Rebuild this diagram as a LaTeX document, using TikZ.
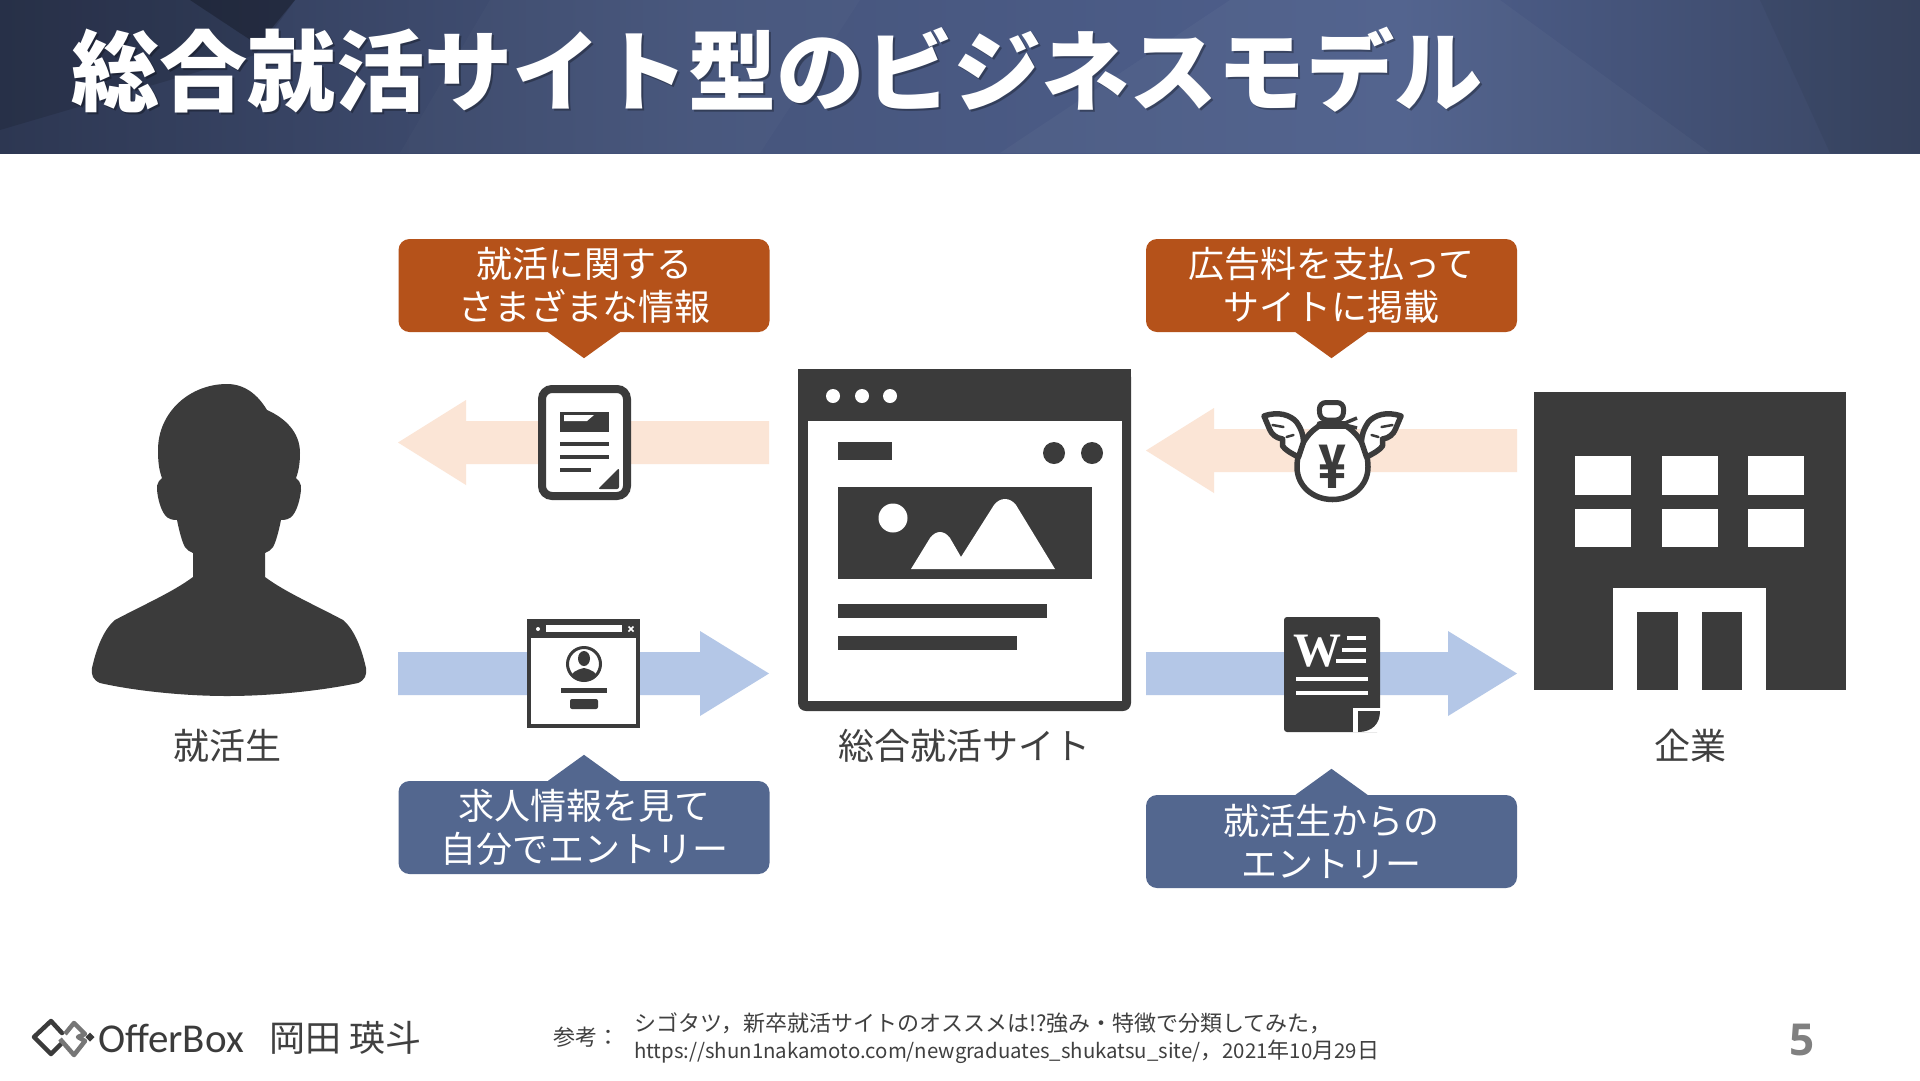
\documentclass[tikz,border=0pt]{standalone}
\usepackage{fontspec}
\setmainfont{Noto Sans CJK JP}
\newfontfamily\wfont{Liberation Serif}
\newfontfamily\logofont{Carlito}
\newfontfamily\numfont{Open Sans}
\definecolor{icon}{HTML}{3B3B3B}
\definecolor{txt}{HTML}{404040}
\definecolor{burnt}{HTML}{B5521A}
\definecolor{slate}{HTML}{53678F}
\definecolor{palered}{HTML}{FBE5D6}
\definecolor{paleblue}{HTML}{B4C7E7}
\definecolor{bandleft}{HTML}{2D3752}
\definecolor{bandmid}{HTML}{46557C}
\definecolor{bandpeak}{HTML}{4E5F8C}
\definecolor{bandright}{HTML}{394562}
\tikzset{
  callout/.style={rectangle,rounded corners=11pt,minimum width=371pt,minimum height=93pt,inner sep=0pt,text=white,align=center,font=\fontsize{36}{43}\selectfont},
  lbl/.style={text=txt,inner sep=0pt,font=\fontsize{36}{42}\selectfont},
  foot/.style={text=txt,inner sep=0pt,font=\fontsize{22}{27}\selectfont},
  icn/.style={fill=icon,draw=none},
  hole/.style={fill=white,draw=none},
  wingline/.style={draw=icon,fill=white,line width=5.5pt,line join=round,line cap=round},
}
\newcommand{\latinsize}{\fontsize{20.4}{27}\selectfont}
\newcommand{\blockright}[4][paleblue]{\fill[#1] (#2,#3-21.5) -- (#4-69,#3-21.5) -- (#4-69,#3-42.5) -- (#4,#3) -- (#4-69,#3+42.5) -- (#4-69,#3+21.5) -- (#2,#3+21.5) -- cycle;}
\newcommand{\blockleft}[4][palered]{\fill[#1] (#2,#3-21.5) -- (#4+68,#3-21.5) -- (#4+68,#3-42.5) -- (#4,#3) -- (#4+68,#3+42.5) -- (#4+68,#3+21.5) -- (#2,#3+21.5) -- cycle;}
\begin{document}
\begin{tikzpicture}[x=1pt,y=-1pt]
  \useasboundingbox (0,0) rectangle (1920,1080);
  \fill[white] (0,0) rectangle (1920,1080);
  \begin{scope}
    \clip (0,0) rectangle (1920,153);
    \shade[left color=bandleft,right color=bandmid] (0,0) rectangle (701,153);
    \shade[left color=bandmid,right color=bandpeak] (700,0) rectangle (1401,153);
    \shade[left color=bandpeak,right color=bandright] (1400,0) rectangle (1920,153);
    \fill[black,opacity=.12] (0,0) -- (295,0) -- (255,55) -- (0,130) -- cycle;
    \fill[black,opacity=.25] (190,0) -- (295,0) -- (258,45) -- cycle;
    \fill[white,opacity=.03] (1000,153) -- (1230,0) -- (1500,0) -- (1710,153) -- cycle;
    \fill[white,opacity=.02] (400,153) -- (490,0) -- (860,0) -- (760,153) -- cycle;
    \fill[black,opacity=.05] (1760,0) -- (1920,0) -- (1920,153) -- (1830,153) -- cycle;
  \end{scope}
  \node[inner sep=0pt,text=black,opacity=.3,font=\fontsize{88.2}{88}\bfseries\selectfont] (titleshadow) at (779,72) {総合就活サイト型のビジネスモデル};
  \node[inner sep=0pt,text=white,font=\fontsize{88.2}{88}\bfseries\selectfont] (title) at (777,70) {総合就活サイト型のビジネスモデル};

  \blockleft{769}{442.5}{398}
  \blockright{398}{673.5}{769}
  \blockleft{1517}{450.5}{1146}
  \blockright{1146}{673.5}{1517}

  \node[callout,fill=burnt] (infobox) at (584,285.5) {就活に関する\\さまざまな情報};
  \fill[burnt] ([xshift=-36pt]infobox.south) -- ([yshift=-26pt]infobox.south) -- ([xshift=36pt]infobox.south) -- cycle;
  \node[callout,fill=burnt] (feebox) at (1331.5,285.5) {広告料を支払って\\サイトに掲載};
  \fill[burnt] ([xshift=-36pt]feebox.south) -- ([yshift=-26pt]feebox.south) -- ([xshift=36pt]feebox.south) -- cycle;
  \node[callout,fill=slate] (applybox) at (584,827.5) {求人情報を見て\\自分でエントリー};
  \fill[slate] ([xshift=-36pt]applybox.north) -- ([yshift=26pt]applybox.north) -- ([xshift=36pt]applybox.north) -- cycle;
  \node[callout,fill=slate] (entrybox) at (1331.5,841.5) {就活生からの\\エントリー};
  \fill[slate] ([xshift=-36pt]entrybox.north) -- ([yshift=26pt]entrybox.north) -- ([xshift=36pt]entrybox.north) -- cycle;

  \fill[icn] (227,384) .. controls (245,384) and (258,395) .. (267,410) .. controls (285,418) and (300,432) .. (300,453) .. controls (300,462) and (299,470) .. (296,478) -- (299,481) .. controls (301,484) and (301,486) .. (301,490) .. controls (300,500) and (297,510) .. (293,515) .. controls (290,519) and (286,520) .. (281,520) .. controls (279,530) and (276,542) .. (273,547) .. controls (271,550) and (268,552) .. (265,553) -- (265,577) .. controls (285,592) and (315,605) .. (343,620) .. controls (355,630) and (362,650) .. (366,668) .. controls (367,675) and (365,680) .. (358,683) .. controls (320,691) and (270,696) .. (227,696) .. controls (185,696) and (135,691) .. (100,683) .. controls (93,680) and (91,675) .. (92,668) .. controls (96,650) and (103,630) .. (115,620) .. controls (143,605) and (173,592) .. (193,577) -- (193,553) .. controls (190,552) and (187,550) .. (185,547) .. controls (182,542) and (179,530) .. (177,520) .. controls (172,520) and (168,519) .. (165,515) .. controls (161,510) and (158,500) .. (157,490) .. controls (157,486) and (157,484) .. (159,481) -- (162,478) .. controls (159,470) and (158,462) .. (158,450) .. controls (158,412) and (190,384) .. (227,384) -- cycle;
  \node[lbl] (student) at (227.5,746) {就活生};

  \fill[icn,rounded corners=8pt] (798,369) -- (1131,369) -- (1131,711) -- (798,711) -- cycle;
  \fill[icn] (798,369) rectangle (1131,400);
  \fill[hole] (808,421) rectangle (1122,701);
  \foreach \x in {833,862,890} \fill[hole] (\x,396) circle (7);
  \fill[icn] (838,442) rectangle (892,460);
  \fill[icn] (1054,453) circle (11);
  \fill[icn] (1092,453) circle (11);
  \fill[icn] (838,487) rectangle (1092,579);
  \fill[hole] (893,518) circle (14.5);
  \fill[hole] (911,569) -- (930,538) .. controls (936,530) and (944,530) .. (950,538) -- (961,557) -- (994,505) .. controls (1000,497) and (1010,497) .. (1016,505) -- (1055,569) -- cycle;
  \fill[icn] (838,604) rectangle (1047,618);
  \fill[icn] (838,636) rectangle (1017,650);
  \node[lbl] (site) at (964,746) {総合就活サイト};

  \fill[icn] (1534,392) rectangle (1846,690);
  \foreach \x in {1575,1662,1748} {
    \fill[hole] (\x,456) rectangle ++(56,39);
    \fill[hole] (\x,509) rectangle ++(56,38);
  }
  \fill[hole] (1613,588) rectangle (1766,690);
  \fill[icn] (1637,612) rectangle (1678,690);
  \fill[icn] (1702,612) rectangle (1742,690);
  \node[lbl] (company) at (1690,746) {企業};

  \draw[draw=icon,fill=white,line width=8pt,rounded corners=10pt] (542,389) rectangle (627,496);
  \fill[icn] (560,412) rectangle (609,432);
  \fill[hole] (564,415) -- (594,415) -- (587,421) -- (564,421) -- cycle;
  \fill[icn] (560,442) rectangle (609,446);
  \fill[icn] (560,455) rectangle (609,459);
  \fill[icn] (560,468) rectangle (591,472);
  \fill[icn,rounded corners=2pt] (598,489) -- (619,468) -- (619,489) -- cycle;

  \fill[hole] (527,619) rectangle (640,728);
  \draw[draw=icon,line width=3.5pt] (529,621) rectangle (638,726);
  \fill[icn] (527,619) rectangle (640,638);
  \fill[hole] (538,629) circle (2);
  \fill[hole] (546,625) rectangle (622,632);
  \draw[white,line width=1.5pt] (628.5,626.5) -- (633.5,631.5) (628.5,631.5) -- (633.5,626.5);
  \begin{scope}
    \clip (584,664) circle (17);
    \fill[icn] (584,658.5) ellipse (6 and 7.5);
    \fill[icn] (570,682) .. controls (570,672) and (576,670) .. (584,668) .. controls (592,670) and (598,672) .. (598,682) -- cycle;
  \end{scope}
  \draw[draw=icon,line width=3pt] (584,664) circle (16.5);
  \fill[icn] (561,688) rectangle (607,693);
  \fill[icn,rounded corners=2pt] (570,699) rectangle (598,709);

  \draw[draw=icon,fill=white,line width=5.5pt] (1319,426) .. controls (1305,435) and (1297,450) .. (1297,467) .. controls (1297,486) and (1313,499.5) .. (1332.5,499.5) .. controls (1352,499.5) and (1368,486) .. (1368,467) .. controls (1368,450) and (1360,435) .. (1346,426) -- cycle;
  \foreach \s in {1,-1} {
    \begin{scope}[shift={(1332.5,0)},xscale=\s]
      \draw[wingline] (-68.5,416) .. controls (-54,411) and (-42,415) .. (-36,422) .. controls (-31,429) and (-29,436) .. (-29,442) -- (-34,457) .. controls (-42,453) and (-47,450) .. (-50,446) -- (-50,439) .. controls (-57,438) and (-61,434) .. (-63,429) -- cycle;
      \draw[icon,line width=2.5pt,line cap=round] (-60,425) -- (-49,427);
      \draw[icon,line width=2.5pt,line cap=round] (-46,437) -- (-39,435);
    \end{scope}
  }
  \draw[draw=icon,fill=white,line width=5pt,rounded corners=7pt] (1320,420) -- (1319,402.5) -- (1344,402.5) -- (1343,420) -- cycle;
  \draw[icon,line width=7pt,line cap=round] (1320,424) -- (1345,424);
  \draw[icon,line width=3.5pt] (1345,423) -- (1357,418);
  \draw[icon,line width=3.5pt] (1345,425) -- (1357,428);
  \node[inner sep=0pt,text=icon,font=\fontsize{46}{46}\bfseries\selectfont] (yen) at (1332.5,467) {\scalebox{1}[1.3]{¥}};

  \fill[icn,rounded corners=3pt] (1284,617) rectangle (1380,732);
  \fill[white] (1380,708) -- (1353,708) -- (1353,732) -- (1381,732) -- (1381,708) -- cycle;
  \fill[icn] (1358,711) -- (1380,711) .. controls (1380,724) and (1372,732) .. (1358,732) -- cycle;
  \node[inner sep=0pt,text=white,font=\wfont\bfseries\fontsize{48}{48}\selectfont] (wmark) at (1317,651) {W};
  \fill[hole] (1347,636) rectangle (1366,640);
  \fill[hole] (1342,648) rectangle (1366,652);
  \fill[hole] (1336,659) rectangle (1366,663);
  \fill[hole] (1296,677) rectangle (1368,681);
  \fill[hole] (1296,691) rectangle (1368,695);

  \draw[icon,line width=4.5pt,line join=round,line cap=round] (62,1033) -- (51,1021) -- (34,1037) -- (51,1054) -- (61,1044);
  \draw[icon!70,line width=4.5pt,line join=round] (65,1034) -- (74,1023) -- (85,1034) -- (78,1037) -- (85,1041) -- (74,1055) -- (60,1039);
  \fill[icon] (90,1032.5) -- (94.5,1037) -- (90,1041.5) -- (85.5,1037) -- cycle;
  \node[inner sep=0pt,anchor=west,text=icon,font=\logofont\fontsize{41}{41}\selectfont] (logo) at (98,1038) {OfferBox};
  \node[inner sep=0pt,anchor=west,text=txt,font=\fontsize{36}{42}\selectfont] (author) at (269,1038) {岡田 瑛斗};
  \node[foot,anchor=west] (refmark) at (553,1037) {参考：};
  \node[foot,anchor=west,align=left] (refs) at (634,1038) {シゴタツ，新卒就活サイトのオススメは!?強み・特徴で分類してみた，\\{\latinsize https://shun1nakamoto.com/newgraduates\_shukatsu\_site/}，{\latinsize 2021}年{\latinsize 10}月{\latinsize 29}日};
  \node[inner sep=0pt,text=icon!65,font=\numfont\bfseries\fontsize{44}{44}\selectfont] (pagenum) at (1802,1040) {5};
\end{tikzpicture}
\end{document}
